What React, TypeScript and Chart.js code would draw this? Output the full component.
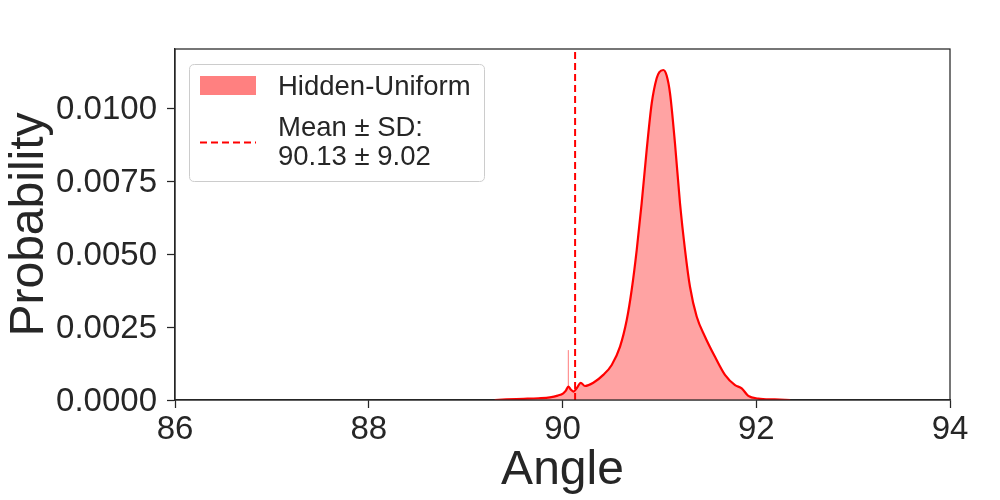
import React, { useEffect, useRef } from 'react';
import { Chart, registerables } from 'chart.js';

Chart.register(...registerables);

// KDE curve of the "Hidden-Uniform" angle distribution
const kdeAngles = [
  89.3, 89.42, 89.6, 89.75, 89.87, 89.95, 90.008, 90.035, 90.06, 90.085, 90.112, 90.15, 90.188, 90.232,
  90.318, 90.421, 90.508, 90.594, 90.663, 90.714, 90.766, 90.817, 90.869, 90.921, 90.972, 91.0, 91.041,
  91.075, 91.11, 91.161, 91.213, 91.265, 91.316, 91.385, 91.471, 91.574, 91.677, 91.781, 91.85, 91.918,
  92.021, 92.19, 92.35,
];
const kdeProbs = [
  0.0, 0.00002, 0.00004, 0.00006, 0.00009, 0.00015, 0.00023, 0.00032, 0.00046, 0.00036, 0.00029, 0.00042,
  0.00059, 0.00048, 0.00059, 0.00086, 0.0012, 0.00183, 0.00274, 0.00377, 0.00514, 0.00674, 0.00857,
  0.01017, 0.01103, 0.01124, 0.01131, 0.01112, 0.01051, 0.0088, 0.00674, 0.00514, 0.00388, 0.00286,
  0.00217, 0.00148, 0.00086, 0.00051, 0.0004, 0.00014, 0.00005, 0.00002, 0.0,
];

// single tall histogram bin
const spikeAngle = 90.06;
const spikeProb = 0.00171;

// mean ± sd
const meanAngle = 90.13;
const meanText = 'Mean ± SD:';
const meanValueText = '90.13 ± 9.02';
const seriesLabel = 'Hidden-Uniform';

const xTicks = [86, 88, 90, 92, 94];
const yTicks = [0, 0.0025, 0.005, 0.0075, 0.01];
const xMin = 86;
const xMax = 94;
const yMin = 0;
const yMax = 0.01203;

const FONT = '"Liberation Sans", Arial, sans-serif';
const TEXT = '#262626';

const framePlugin = {
  id: 'frame',
  afterDatasetsDraw(chart: any) {
    const { ctx, chartArea } = chart;
    ctx.save();
    ctx.strokeStyle = TEXT;
    ctx.lineWidth = 1.25;
    ctx.strokeRect(chartArea.left, chartArea.top, chartArea.right - chartArea.left, chartArea.bottom - chartArea.top);
    ctx.restore();
  },
};

const legendPlugin = {
  id: 'mplLegend',
  afterDraw(chart: any) {
    const { ctx } = chart;
    const x = 189.5, y = 64.5, w = 295, h = 117, r = 5;
    ctx.save();
    ctx.beginPath();
    ctx.moveTo(x + r, y);
    ctx.lineTo(x + w - r, y);
    ctx.quadraticCurveTo(x + w, y, x + w, y + r);
    ctx.lineTo(x + w, y + h - r);
    ctx.quadraticCurveTo(x + w, y + h, x + w - r, y + h);
    ctx.lineTo(x + r, y + h);
    ctx.quadraticCurveTo(x, y + h, x, y + h - r);
    ctx.lineTo(x, y + r);
    ctx.quadraticCurveTo(x, y, x + r, y);
    ctx.closePath();
    ctx.fillStyle = 'rgba(255,255,255,0.8)';
    ctx.fill();
    ctx.strokeStyle = '#cccccc';
    ctx.lineWidth = 1;
    ctx.stroke();

    // patch
    ctx.fillStyle = '#ff8080';
    ctx.fillRect(200, 76, 56, 19);

    // dashed line
    ctx.beginPath();
    ctx.setLineDash([7, 4]);
    ctx.strokeStyle = '#ff0000';
    ctx.lineWidth = 2;
    ctx.moveTo(200, 142.5);
    ctx.lineTo(256, 142.5);
    ctx.stroke();
    ctx.setLineDash([]);

    ctx.fillStyle = TEXT;
    ctx.font = `27.5px ${FONT}`;
    ctx.textAlign = 'left';
    ctx.textBaseline = 'middle';
    ctx.fillText(seriesLabel, 278, 87);
    ctx.fillText(meanText, 278, 128);
    ctx.fillText(meanValueText, 278, 157);
    ctx.restore();
  },
};

export default function App() {
  const canvasRef = useRef<HTMLCanvasElement | null>(null);

  useEffect(() => {
    if (!canvasRef.current) return;
    const kdePoints = kdeAngles.map((a, i) => ({ x: a, y: kdeProbs[i] }));
    const chart = new Chart(canvasRef.current, {
      type: 'line',
      data: {
        datasets: [
          {
            label: 'mean',
            data: [
              { x: meanAngle, y: yMin },
              { x: meanAngle, y: yMax },
            ],
            borderColor: '#ff0000',
            borderWidth: 2,
            borderDash: [7, 4],
            pointRadius: 0,
            fill: false,
          },
          {
            label: seriesLabel,
            data: kdePoints,
            borderColor: '#ff0000',
            borderWidth: 2.2,
            backgroundColor: '#ffa3a3',
            fill: 'origin',
            pointRadius: 0,
            cubicInterpolationMode: 'monotone',
          },
          {
            label: 'bin',
            data: [
              { x: spikeAngle, y: 0 },
              { x: spikeAngle, y: spikeProb },
            ],
            borderColor: 'rgba(255,110,110,0.9)',
            borderWidth: 1,
            pointRadius: 0,
            fill: false,
          },
        ],
      },
      options: {
        responsive: false,
        animation: false,
        layout: { padding: { top: 49, right: 50, left: 0, bottom: 0 } },
        plugins: { legend: { display: false }, tooltip: { enabled: false } },
        scales: {
          x: {
            type: 'linear',
            min: xMin,
            max: xMax,
            afterBuildTicks: (scale: any) => {
              scale.ticks = xTicks.map((v) => ({ value: v }));
            },
            afterFit: (scale: any) => {
              scale.height = 100;
            },
            ticks: {
              font: { family: FONT, size: 33 },
              color: TEXT,
              padding: 2,
              maxRotation: 0,
              callback: (v: any) => String(v),
            },
            grid: { drawOnChartArea: false, drawTicks: true, tickLength: 8, color: TEXT, tickWidth: 1.25 },
            border: { display: true, color: TEXT, width: 1.25 },
            title: {
              display: true,
              text: 'Angle',
              color: TEXT,
              font: { family: FONT, size: 48, lineHeight: 1 },
              padding: { top: 0, bottom: 5 },
            },
          },
          y: {
            type: 'linear',
            min: yMin,
            max: yMax,
            afterBuildTicks: (scale: any) => {
              scale.ticks = yTicks.map((v) => ({ value: v }));
            },
            afterFit: (scale: any) => {
              scale.width = 175;
            },
            ticks: {
              font: { family: FONT, size: 33 },
              color: TEXT,
              padding: 10,
              labelOffset: 2,
              callback: (v: any) => Number(v).toFixed(4),
            },
            grid: { drawOnChartArea: false, drawTicks: true, tickLength: 8, color: TEXT, tickWidth: 1.25 },
            border: { display: true, color: TEXT, width: 1.25 },
            title: {
              display: true,
              text: 'Probability',
              color: TEXT,
              font: { family: FONT, size: 48, lineHeight: 1 },
              padding: { top: 6, bottom: 0 },
            },
          },
        },
      },
      plugins: [framePlugin, legendPlugin],
    } as any);
    return () => chart.destroy();
  }, []);

  return (
    <div style={{ position: 'absolute', left: 0, top: 0, width: 1000, height: 500, background: '#ffffff' }}>
      <canvas ref={canvasRef} width={1000} height={500} />
    </div>
  );
}
